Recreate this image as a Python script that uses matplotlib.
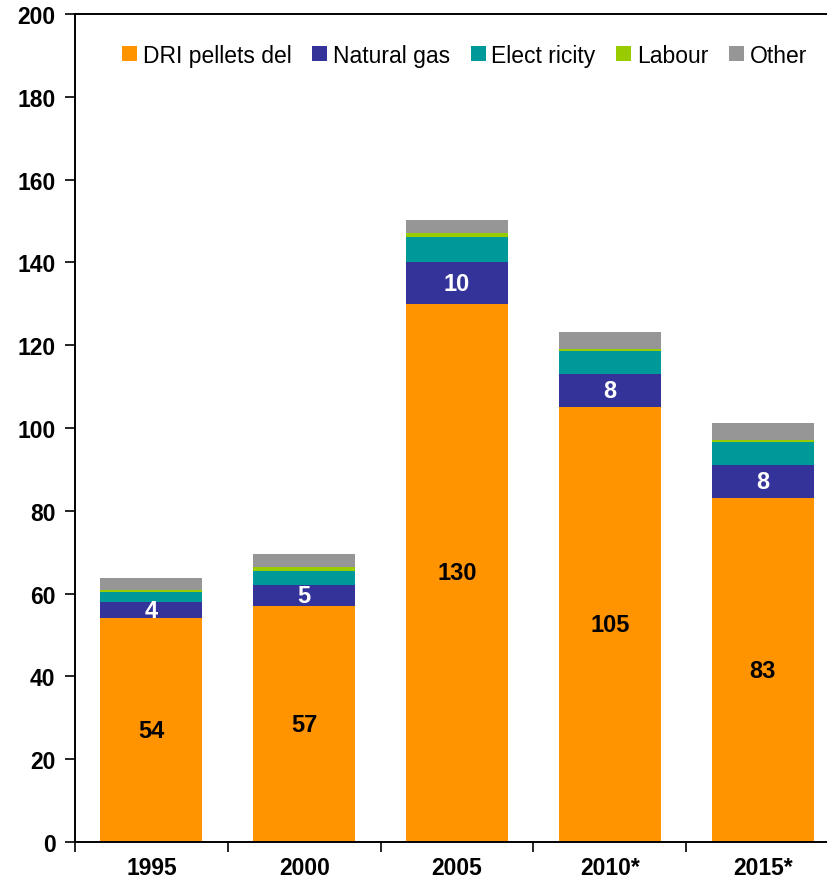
import numpy as np
import matplotlib.pyplot as plt
from matplotlib.patches import Patch

plt.rcParams['font.family'] = ['Liberation Sans', 'DejaVu Sans']

years = ['1995', '2000', '2005', '2010*', '2015*']
dri_pellets = [54, 57, 130, 105, 83]
natural_gas = [4, 5, 10, 8, 8]
electricity = [2.5, 3.5, 6.1, 5.5, 5.5]
labour = [0.3, 1.0, 0.9, 0.7, 0.7]
other = [2.9, 3.0, 3.2, 4.1, 4.1]

series = [
    ('DRI pellets del', dri_pellets, '#FF9300'),
    ('Natural gas', natural_gas, '#333399'),
    ('Elect ricity', electricity, '#009999'),
    ('Labour', labour, '#99CC00'),
    ('Other', other, '#969696'),
]

fig = plt.figure(figsize=(8.28, 8.87), dpi=100)
ax = fig.add_axes([75 / 828, 44 / 887, 764 / 828, 828 / 887])

x = np.arange(len(years))
bottom = np.zeros(len(years))
bar_width = 0.667
for name, vals, color in series:
    vals = np.array(vals, dtype=float)
    ax.bar(x, vals, bar_width, bottom=bottom, color=color, label=name, zorder=2)
    if name == 'DRI pellets del':
        for xi, b, v in zip(x, bottom, vals):
            ax.text(xi, b + v / 2, f'{v:.0f}', ha='center', va='center',
                    fontsize=17, fontweight='bold', color='black')
    elif name == 'Natural gas':
        for xi, b, v in zip(x, bottom, vals):
            ax.text(xi, b + v / 2, f'{v:.0f}', ha='center', va='center',
                    fontsize=17, fontweight='bold', color='white')
    bottom += vals

ax.set_xlim(-0.5, len(years) - 0.5)
ax.set_ylim(0, 200)
ax.set_yticks(np.arange(0, 201, 20))
ax.set_xticks(x)
ax.set_xticklabels(years)
ax.set_xticks(np.arange(-0.5, len(years), 1), minor=True)
ax.tick_params(axis='x', which='major', length=0, pad=10)
ax.tick_params(axis='x', which='minor', length=7, width=1.2, direction='out')
ax.tick_params(axis='y', length=7, width=1.2, direction='out', pad=7)
for lbl in ax.get_xticklabels() + ax.get_yticklabels():
    lbl.set_fontsize(16.5)
    lbl.set_fontweight('bold')

for side in ['left', 'bottom', 'top']:
    ax.spines[side].set_linewidth(1.4)
ax.spines['right'].set_visible(False)

handles = [Patch(facecolor=c, edgecolor='none') for _, _, c in series]
labels = [n for n, _, _ in series]
ax.legend(handles, labels, ncol=5, loc='upper left', bbox_to_anchor=(0.05, 0.975),
          frameon=False, fontsize=16.5, handlelength=0.65, handleheight=0.65,
          handletextpad=0.25, columnspacing=0.9, borderaxespad=0)

fig.savefig('out.png', dpi=100)
